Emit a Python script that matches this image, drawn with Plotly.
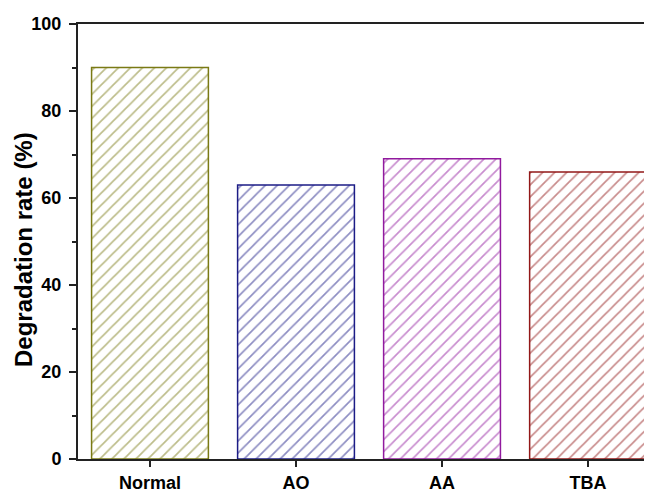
import plotly.graph_objects as go

categories = ["Normal", "AO", "AA", "TBA"]
values = [90, 63, 69, 66]
colors = ["#7a7a14", "#1c1c86", "#911a9e", "#921818"]
y_title = "Degradation rate (%)"

fig = go.Figure()
fig.add_trace(go.Bar(
    x=categories, y=values, width=0.8,
    marker=dict(
        color="white",
        line=dict(color=colors, width=1.5),
        pattern=dict(shape="/", fgcolor=colors, bgcolor="white", size=8.5, solidity=0.2),
    ),
))

font = "Liberation Sans, Arial, sans-serif"
fig.update_layout(
    width=644, height=485,
    margin=dict(l=70, r=0, t=16, b=34),
    paper_bgcolor="white", plot_bgcolor="white",
    showlegend=False,
    font=dict(family=font, color="black"),
    xaxis=dict(
        range=[-0.493, 3.438], showline=True, linewidth=2, linecolor="#222",
        mirror=True, ticks="outside", ticklen=6, tickwidth=2, tickcolor="#222",
        tickfont=dict(size=18, family=font, weight="bold"), showgrid=False,
        automargin=False,
    ),
    yaxis=dict(
        range=[0, 100], dtick=20, showline=True, linewidth=2, linecolor="#222",
        ticks="outside", ticklen=7, tickwidth=2, tickcolor="#222",
        tickfont=dict(size=18, family=font, weight="bold"), showgrid=False, zeroline=False,
        ticklabelstandoff=4,
        minor=dict(ticks="outside", dtick=10, ticklen=4, tickwidth=2, tickcolor="#222", showgrid=False),
        automargin=False,
    ),
    annotations=[dict(
        text=y_title, textangle=-90, xref="paper", yref="paper",
        x=(23 - 78) / 574, y=(459 - 250) / 435, xanchor="center", yanchor="middle",
        showarrow=False, font=dict(size=24, family=font, weight="bold", color="black"),
    )],
)
fig.write_html("out.html")
